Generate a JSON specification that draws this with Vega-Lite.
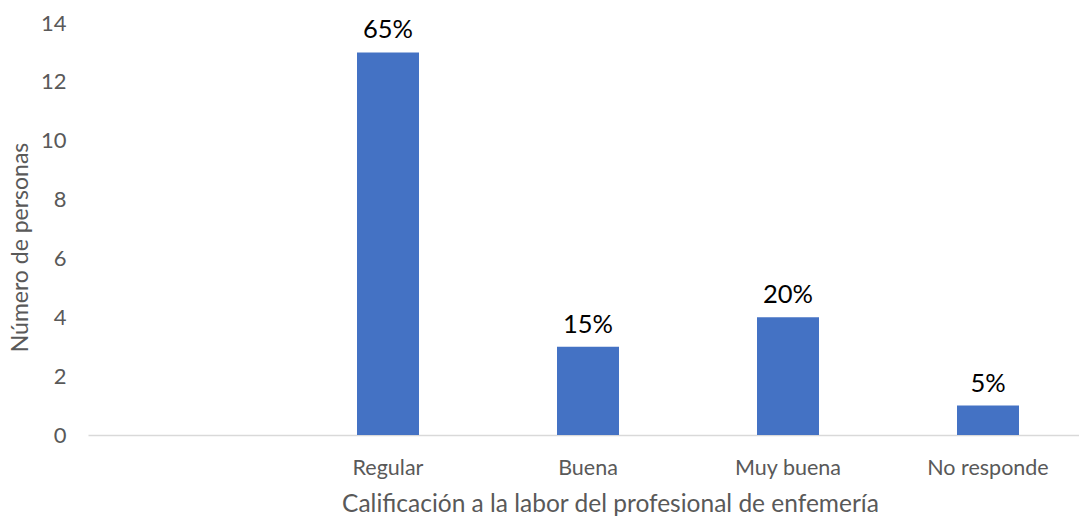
{
  "$schema": "https://vega.github.io/schema/vega-lite/v6.json",
  "width": 1000,
  "height": 412,
  "autosize": {"type": "none"},
  "padding": {"left": 88, "top": 23, "right": 0, "bottom": 81},
  "background": "white",
  "config": {
    "view": {"stroke": null},
    "font": "Lato"
  },
  "data": {
    "values": [
      {"categoria": "Regular", "personas": 13, "pct": "65%"},
      {"categoria": "Buena", "personas": 3, "pct": "15%"},
      {"categoria": "Muy buena", "personas": 4, "pct": "20%"},
      {"categoria": "No responde", "personas": 1, "pct": "5%"}
    ]
  },
  "encoding": {
    "x": {
      "field": "categoria",
      "type": "nominal",
      "scale": {"domain": ["", "Regular", "Buena", "Muy buena", "No responde"], "paddingInner": 0.69, "paddingOuter": 0.345},
      "axis": {
        "title": "Calificación a la labor del profesional de enfemería",
        "titleFont": "Lato",
        "titleFontSize": 24.5,
        "titleFontWeight": "normal",
        "titleColor": "#595959",
        "titlePadding": 14,
        "titleX": 522,
        "labelAngle": 0,
        "labelFont": "Lato",
        "labelFontSize": 21.5,
        "labelColor": "#595959",
        "labelPadding": 22,
        "ticks": false,
        "domainColor": "#d9d9d9",
        "domainWidth": 1.5,
        "grid": false
      }
    },
    "y": {
      "field": "personas",
      "type": "quantitative",
      "scale": {"domain": [0, 14]},
      "axis": {
        "title": "Número de personas",
        "titleFont": "Lato",
        "titleFontSize": 23,
        "titleFontWeight": "normal",
        "titleColor": "#595959",
        "titlePadding": 8,
        "titleY": 224,
        "values": [0, 2, 4, 6, 8, 10, 12, 14],
        "labelFont": "Lato",
        "labelFontSize": 22,
        "labelColor": "#595959",
        "labelPadding": 22,
        "ticks": false,
        "domain": false,
        "grid": false
      }
    }
  },
  "layer": [
    {"mark": {"type": "bar", "color": "#4472C4"}},
    {
      "mark": {"type": "text", "baseline": "alphabetic", "dy": -14, "fontSize": 25.5, "color": "#000000", "font": "Lato"},
      "encoding": {"text": {"field": "pct", "type": "nominal"}}
    }
  ]
}
